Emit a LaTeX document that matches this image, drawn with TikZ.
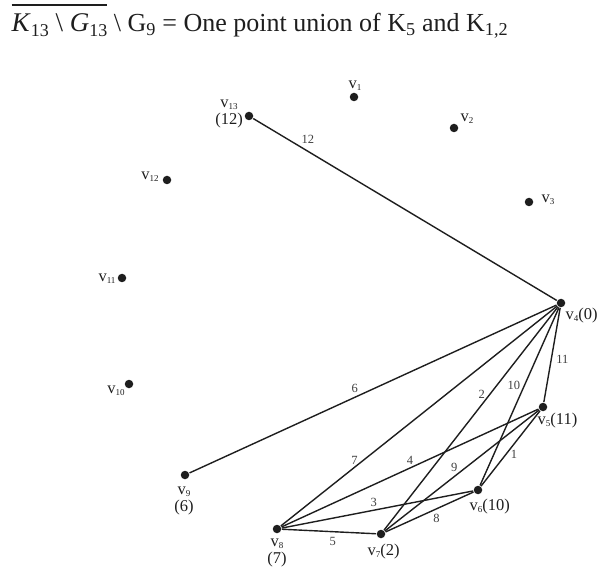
\documentclass[tikz,border=0pt]{standalone}
\usepackage{fontspec}
\setmainfont{Liberation Serif}
\usetikzlibrary{positioning}
\definecolor{ink}{RGB}{30,30,30}
\tikzset{
  every picture/.style={color=ink, line width=1.4pt},
  dot/.style={circle, fill=ink, inner sep=0pt, minimum size=8.5pt},
  edge/.style={draw=ink, line width=1.4pt},
  wt/.style={font=\fontsize{12.5}{12.5}\selectfont, text=ink!85, inner sep=1.5pt},
  vlbl/.style={font=\fontsize{16.5}{17}\selectfont, inner sep=0pt, align=center},
  title/.style={font=\fontsize{26}{26}\selectfont, inner sep=0pt, anchor=base west},
}
\newcommand{\vx}[1]{v\raisebox{-2pt}{\fontsize{9}{9}\selectfont #1}}
\newcommand{\bigsub}[1]{\raisebox{-5pt}{\fontsize{18}{18}\selectfont #1}}

\begin{document}
\begin{tikzpicture}[x=1pt, y=-1pt]
  \useasboundingbox (0,0) rectangle (605,569);
  % heading
  \node[title] (head) at (11,32)
    {\vbox{\hrule height 1.6pt\kern 2pt\hbox{\rule{0pt}{24pt}\fontsize{27}{27}\selectfont\textit{K}\bigsub{13}\ \textbackslash\ \textit{G}\bigsub{13}}}\ \textbackslash{} G\textsubscript{9} = One point union of K\textsubscript{5} and K\textsubscript{1,2}};
  % the thirteen vertices
  \node[dot] (v1) at (354,97) {};
  \node[dot] (v2) at (454,128) {};
  \node[dot] (v3) at (529,202) {};
  \node[dot] (v4) at (561,303) {};
  \node[dot] (v5) at (543,407) {};
  \node[dot] (v6) at (478,490) {};
  \node[dot] (v7) at (381,534) {};
  \node[dot] (v8) at (277,529) {};
  \node[dot] (v9) at (185,475) {};
  \node[dot] (v10) at (129,384) {};
  \node[dot] (v11) at (122,278) {};
  \node[dot] (v12) at (167,180) {};
  \node[dot] (v13) at (249,116) {};
  % vertex names and labels
  \node[vlbl] (l1) at (355,86) {\vx{1}};
  \node[vlbl] (l2) at (467,119) {\vx{2}};
  \node[vlbl] (l3) at (548,200) {\vx{3}};
  \node[vlbl, anchor=west] (l4) at (565,316) {\vx{4}(0)};
  \node[vlbl, anchor=west] (l5) at (537,421) {\vx{5}(11)};
  \node[vlbl, anchor=west] (l6) at (469,507) {\vx{6}(10)};
  \node[vlbl, anchor=west] (l7) at (367,552) {\vx{7}(2)};
  \node[vlbl] (l8) at (277,553) {\vx{8}\\(7)};
  \node[vlbl] (l9) at (184,501) {\vx{9}\\(6)};
  \node[vlbl] (l10) at (116,391) {\vx{10}};
  \node[vlbl] (l11) at (107,279) {\vx{11}};
  \node[vlbl] (l12) at (150,177) {\vx{12}};
  \node[vlbl] (l13) at (229,114) {\vx{13}\\(12)};
  % labelled edges
  \draw[edge] (v4) -- node[wt, pos=.82, above=6pt] (w12) {12} (v13);
  \draw[edge] (v4) -- node[wt, pos=.55, above=3pt] (w6) {6} (v9);
  \draw[edge] (v4) -- node[wt, pos=.70, left=4pt] (w7) {7} (v8);
  \draw[edge] (v4) -- node[wt, pos=.39, left=3pt] (w2) {2} (v7);
  \draw[edge] (v4) -- node[wt, pos=.44, left=2pt] (w10) {10} (v6);
  \draw[edge] (v4) -- node[wt, pos=.55, right=3pt] (w11) {11} (v5);
  \draw[edge] (v5) -- node[wt, pos=.50, above=1pt] (w4) {4} (v8);
  \draw[edge] (v5) -- node[wt, pos=.55, above=3pt] (w9) {9} (v7);
  \draw[edge] (v5) -- node[wt, pos=.58, right=3pt] (w1) {1} (v6);
  \draw[edge] (v8) -- node[wt, pos=.48, above=1pt] (w3) {3} (v6);
  \draw[edge] (v7) -- node[wt, pos=.58, below=3pt] (w8) {8} (v6);
  \draw[edge] (v8) -- node[wt, pos=.54, below=3pt] (w5) {5} (v7);
\end{tikzpicture}
\end{document}
